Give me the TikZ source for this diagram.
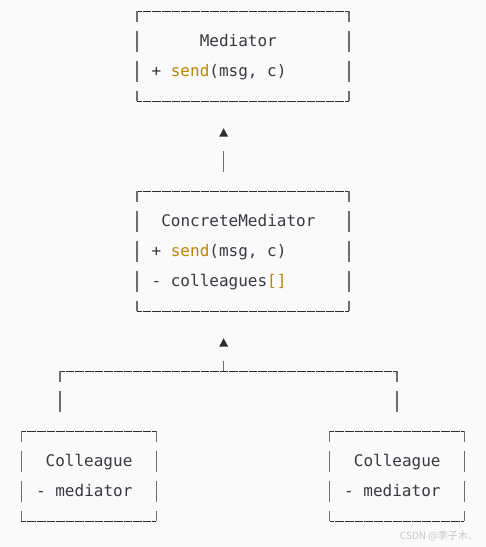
\documentclass[tikz,border=0pt]{standalone}
\usepackage{fontspec}
\newfontfamily\codefont{DejaVu Sans Mono}
\newfontfamily\cjkfont{Noto Sans CJK SC}
\definecolor{bg}{HTML}{FAFAFA}
\definecolor{txt}{HTML}{383A42}
\definecolor{kw}{HTML}{C18401}
\definecolor{hl}{HTML}{2E2E2E}
\definecolor{vl}{HTML}{6E6E6E}
\definecolor{wm}{HTML}{C8C8C8}
\tikzset{
 code/.style={anchor=base west, inner sep=0pt, text=txt, font=\codefont\fontsize{16}{30}\selectfont},
 boxarea/.style={draw=none, inner sep=0pt, outer sep=0pt},
 hline/.style={draw=hl, line width=0.9pt, dash pattern=on 8.63pt off 1pt, dash phase=3.83pt},
 vline/.style={draw=vl, line width=1.3pt, dash pattern=on 21pt off 9pt, dash phase=10.5pt},
 tick/.style={draw=vl, line width=1.3pt},
 tipbox/.style={draw=none, inner sep=0pt, outer sep=0pt, minimum width=9pt, minimum height=8.4pt},
}
\newcommand\AsciiBorder[1]{%
 \draw[hline] (#1.north west) -- (#1.north east);
 \draw[hline] (#1.south west) -- (#1.south east);
 \draw[vline] (#1.north west) -- (#1.south west);
 \draw[vline] (#1.north east) -- (#1.south east);}
\newcommand\TipFill[1]{\fill[hl] (#1.south west) -- (#1.north) -- (#1.south east) -- cycle;}
\begin{document}
\begin{tikzpicture}[x=1pt,y=-1pt]
\fill[bg] (0,0) rectangle (486,547);
\useasboundingbox (0,0) rectangle (486,547);
% boxes
\node[boxarea, minimum width=211.86pt, minimum height=90pt] (med) at (242.93,56) {};
\node[boxarea, minimum width=211.86pt, minimum height=120pt] (cmed) at (242.93,251) {};
\node[boxarea, minimum width=134.82pt, minimum height=90pt] (colL) at (88.85,476) {};
\node[boxarea, minimum width=134.82pt, minimum height=90pt] (colR) at (397.01,476) {};
\AsciiBorder{med}
\AsciiBorder{cmed}
\AsciiBorder{colL}
\AsciiBorder{colR}
% texts
\node[code] (medName) at (199.6,46.85) {Mediator};
\node[code] (medSend) at (151.4,76.85) {+ \textcolor{kw}{send}(msg, c)};
\node[code] (cmName) at (161.1,226.85) {ConcreteMediator};
\node[code] (cmSend) at (151.4,256.85) {+ \textcolor{kw}{send}(msg, c)};
\node[code] (cmList) at (151.4,286.85) {- colleagues\textcolor{kw}{[]}};
\node[code] (clName) at (45.5,466.85) {Colleague};
\node[code] (clMed) at (35.9,496.85) {- mediator};
\node[code] (crName) at (353.7,466.85) {Colleague};
\node[code] (crMed) at (344.0,496.85) {- mediator};
% arrow heads
\node[tipbox] (tip1) at (223.67,132.5) {};
\node[tipbox] (tip2) at (223.67,342.5) {};
\TipFill{tip1}
\TipFill{tip2}
% connector 1
\coordinate (s1top) at (223.67,150.5);
\coordinate (s1bot) at (223.67,171.5);
\draw[tick] (s1bot) -- (s1top);
% connector 2
\coordinate (join) at (223.67,371);
\coordinate (jl) at (59.96,371);
\coordinate (jr) at (397.01,371);
\coordinate (dlTop) at (59.96,390.5);
\coordinate (dlBot) at (59.96,411.5);
\coordinate (drTop) at (397.01,390.5);
\coordinate (drBot) at (397.01,411.5);
\draw[tick] (join) -- ++(0,-10.5);
\draw[hline] (jl) -- (jr);
\draw[tick] (jl) -- ++(0,10.5);
\draw[tick] (jr) -- ++(0,10.5);
\draw[tick] (dlTop) -- (dlBot);
\draw[tick] (drTop) -- (drBot);
% watermark
\node[anchor=east, inner sep=0pt, text=wm, font=\cjkfont\fontsize{10}{12}\selectfont] (wmark) at (478,536) {CSDN @李子木、};
\end{tikzpicture}
\end{document}
